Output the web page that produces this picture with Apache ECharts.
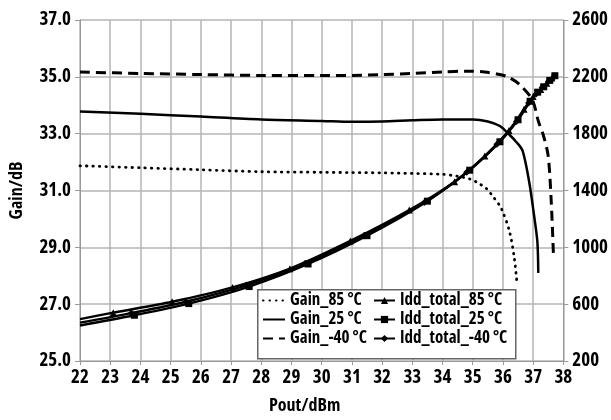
<!DOCTYPE html>
<html><head><meta charset="utf-8">
<script src="https://cdn.jsdelivr.net/npm/echarts@6/dist/echarts.min.js"></script>
<style>html,body{margin:0;padding:0;background:#fff}#c{width:611px;height:420px}</style>
</head><body><div id="c"></div>
<script>
var FONT = '"Open Sans","Noto Sans",sans-serif';
var WEIGHT = 'bold condensed';

var xTicks = [22,23,24,25,26,27,28,29,30,31,32,33,34,35,36,37,38];
var gainTicks = [25,27,29,31,33,35,37];
var iddTicks = [200,600,1000,1400,1800,2200,2600];

var seriesNames = ['Gain_85 °C','Gain_25 °C','Gain_-40 °C','Idd_total_85 °C','Idd_total_25 °C','Idd_total_-40 °C'];

var gain85X = [22, 24, 26, 28, 30, 31, 32, 33, 34, 34.5, 34.92, 35.2, 35.46, 35.7, 35.95, 36.22, 36.38, 36.47];
var gain85Y = [31.87, 31.8, 31.73, 31.66, 31.64, 31.63, 31.62, 31.6, 31.57, 31.5, 31.4, 31.25, 31.06, 30.75, 30.36, 29.55, 28.6, 27.68];

var gain25X = [22, 24, 26, 28, 30, 31, 32, 33, 34, 35, 35.5, 35.9, 36.2, 36.45, 36.65, 36.87, 37.03, 37.14, 37.17];
var gain25Y = [33.78, 33.7, 33.6, 33.5, 33.45, 33.42, 33.43, 33.47, 33.5, 33.5, 33.43, 33.27, 32.98, 32.7, 32.4, 31.3, 30.13, 29.2, 28.1];

var gain40X = [22, 24, 26, 28, 30, 31, 32, 33, 34, 34.8, 35.4, 35.9, 36.2, 36.55, 36.97, 37.17, 37.35, 37.5, 37.6, 37.67];
var gain40Y = [35.17, 35.12, 35.08, 35.05, 35.05, 35.05, 35.08, 35.12, 35.17, 35.2, 35.17, 35.08, 34.98, 34.73, 34.2, 33.45, 32.9, 32.2, 30.6, 28.8];

var idd85X = [22, 23.1, 25.05, 27.05, 28.95, 30.95, 32.9, 34.4, 35.4, 36.2, 36.7, 37.0, 37.25, 37.45, 37.62];
var idd85Y = [495, 540, 617, 718, 850, 1045, 1262, 1462, 1642, 1822, 1972, 2062, 2110, 2155, 2192];

var idd25X = [22, 23.8, 25.6, 27.6, 29.55, 31.5, 33.5, 34.9, 35.9, 36.5, 36.9, 37.15, 37.35, 37.55, 37.72];
var idd25Y = [450, 522, 604, 724, 883, 1082, 1325, 1543, 1743, 1898, 2028, 2092, 2130, 2175, 2208];

var idd40X = [22, 23.7, 25.5, 27.5, 29.45, 31.4, 33.4, 34.8, 35.8, 36.45, 36.85, 37.1, 37.3, 37.5, 37.7];
var idd40Y = [470, 537, 617, 733, 886, 1080, 1316, 1528, 1725, 1885, 2015, 2080, 2125, 2165, 2200];

function pairs(xs, ys) { return xs.map(function (x, i) { return [x, ys[i]]; }); }
function markedPairs(xs, ys) {
  return xs.map(function (x, i) {
    var d = { value: [x, ys[i]] };
    if (i === 0) d.symbolSize = 0;
    return d;
  });
}

var labelStyle = { color: '#000', fontFamily: FONT, fontWeight: WEIGHT, fontSize: 19 };
var gridColor = '#b4b4b4';

var chart = echarts.init(document.getElementById('c'), null, { renderer: 'canvas' });

function gainSeries(name, xs, ys, type, width, cap) {
  return {
    name: name, type: 'line', yAxisIndex: 0, showSymbol: false, symbol: 'circle',
    smooth: 0.3,
    lineStyle: { color: '#000', width: width, type: type, cap: cap },
    itemStyle: { color: 'rgba(255,255,255,0)', borderWidth: 0 },
    data: pairs(xs, ys), z: 3
  };
}
function iddSeries(name, xs, ys, sym) {
  return {
    name: name, type: 'line', yAxisIndex: 1, symbol: sym, symbolSize: 7, showSymbol: true,
    smooth: 0.3,
    lineStyle: { color: '#000', width: 2.4 },
    itemStyle: { color: '#000' },
    data: markedPairs(xs, ys), z: 4
  };
}

var legendText = { color: '#000', fontFamily: FONT, fontWeight: WEIGHT, fontSize: 17 };

chart.setOption({
  animation: false,
  backgroundColor: '#fff',
  grid: { left: 72, right: 46, top: 20, bottom: 57, containLabel: false },
  xAxis: {
    type: 'value', min: xTicks[0], max: xTicks[xTicks.length - 1], interval: 1,
    name: 'Pout/dBm', nameLocation: 'middle', nameGap: 36,
    nameTextStyle: { color: '#000', fontFamily: FONT, fontWeight: WEIGHT, fontSize: 18, padding: [0, 34, 0, 0] },
    axisLine: { lineStyle: { color: '#999', width: 1 } },
    axisTick: { show: true, length: 4, lineStyle: { color: '#999' } },
    axisLabel: Object.assign({ margin: 7 }, labelStyle),
    splitLine: { show: true, lineStyle: { color: gridColor, width: 1.5 } }
  },
  yAxis: [
    {
      type: 'value', min: gainTicks[0], max: gainTicks[gainTicks.length - 1], interval: 2,
      name: 'Gain/dB', nameLocation: 'middle', nameGap: 54, nameRotate: 90,
      nameTextStyle: { color: '#000', fontFamily: FONT, fontWeight: WEIGHT, fontSize: 18 },
      axisLine: { show: true, lineStyle: { color: '#999', width: 1 } },
      axisTick: { show: true, length: 5, lineStyle: { color: '#999' } },
      axisLabel: Object.assign({ margin: 9, formatter: function (v) { return v.toFixed(1); } }, labelStyle),
      splitLine: { show: true, lineStyle: { color: gridColor, width: 1.5 } }
    },
    {
      type: 'value', position: 'right', min: iddTicks[0], max: iddTicks[iddTicks.length - 1], interval: 400,
      axisLine: { show: true, lineStyle: { color: '#999', width: 1 } },
      axisTick: { show: true, length: 5, lineStyle: { color: '#999' } },
      axisLabel: Object.assign({ margin: 9, formatter: function (v) { return String(v); } }, labelStyle),
      splitLine: { show: false }
    }
  ],
  legend: [
    {
      data: seriesNames.slice(0, 3), orient: 'vertical', left: 262, top: 292, padding: 0,
      itemWidth: 22, itemHeight: 9, itemGap: 2, textStyle: legendText,
      selectedMode: false
    },
    {
      data: seriesNames.slice(3), orient: 'vertical', left: 373, top: 292, padding: 0,
      itemWidth: 21, itemHeight: 9, itemGap: 2, textStyle: legendText,
      selectedMode: false
    }
  ],
  graphic: [{
    type: 'rect', left: 257, top: 289, z: 1,
    shape: { width: 258, height: 69 },
    style: { fill: '#fff', stroke: '#666', lineWidth: 1.5 }
  }],
  series: [
    gainSeries(seriesNames[0], gain85X, gain85Y, [0.5, 6], 2.8, 'round'),
    gainSeries(seriesNames[1], gain25X, gain25Y, 'solid', 2.5, 'butt'),
    gainSeries(seriesNames[2], gain40X, gain40Y, [10, 6], 3, 'butt'),
    iddSeries(seriesNames[3], idd85X, idd85Y, 'triangle'),
    iddSeries(seriesNames[4], idd25X, idd25Y, 'rect'),
    iddSeries(seriesNames[5], idd40X, idd40Y, 'diamond')
  ]
});
</script></body></html>
